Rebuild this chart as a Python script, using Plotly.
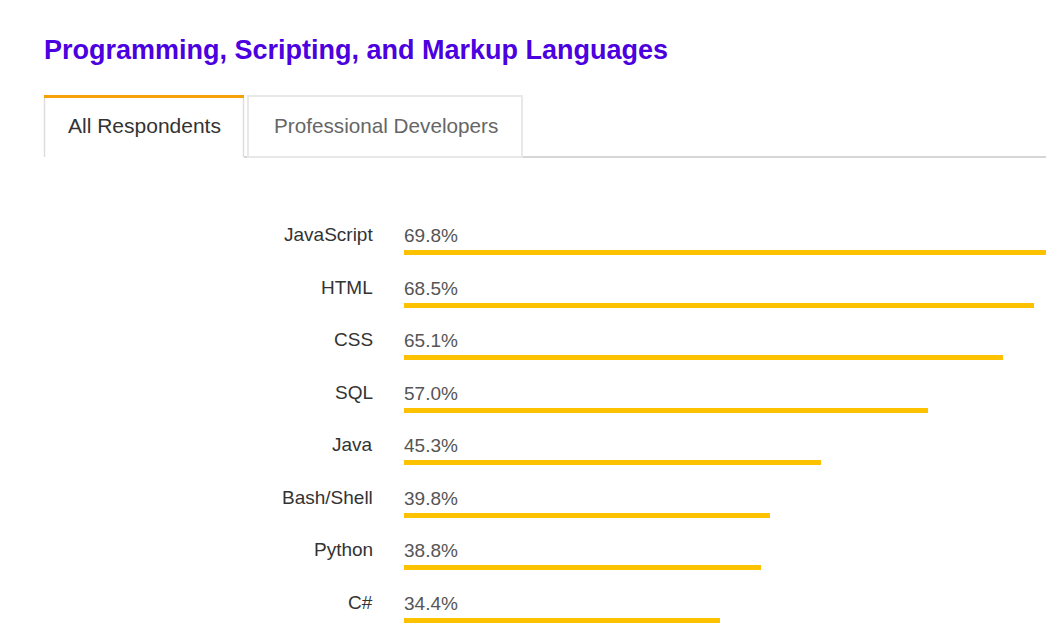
import plotly.graph_objects as go

languages = ["JavaScript", "HTML", "CSS", "SQL", "Java", "Bash/Shell", "Python", "C#"]
shares = [69.8, 68.5, 65.1, 57.0, 45.3, 39.8, 38.8, 34.4]
value_labels = [f"{v:.1f}%" for v in shares]
title_text = "Programming, Scripting, and Markup Languages"
tab_labels = ["All Respondents", "Professional Developers"]

FONT = "Arial"

W, H = 1058, 635
L, R, T, B = 404, 12, 200, 0
PW, PH = W - L - R, H - T - B
ROW = 52.57
FIRST = 252.5  # pixel centre of first bar

def px(x):
    return (x - L) / PW

def py(y):
    return (H - B - y) / PH

y_top = -(FIRST - T) / ROW
y_bot = y_top + PH / ROW
idx = list(range(len(languages)))

fig = go.Figure()
fig.add_trace(go.Bar(
    x=shares, y=idx, orientation="h",
    marker=dict(color="#fcc200", line=dict(width=0)),
    width=5 / ROW, hoverinfo="skip", showlegend=False,
))

annotations = []
for i, (lang, lab) in enumerate(zip(languages, value_labels)):
    annotations.append(dict(
        x=0, y=i, xref="x", yref="y", text=lang, showarrow=False,
        xanchor="right", yanchor="middle", xshift=-29, yshift=18,
        font=dict(family=FONT, size=19, color="#333333"),
    ))
    annotations.append(dict(
        x=0, y=i, xref="x", yref="y", text=lab, showarrow=False,
        xanchor="left", yanchor="middle", xshift=-2, yshift=17,
        font=dict(family=FONT, size=19, color="#555555"),
    ))

annotations.append(dict(
    x=px(144.5), y=py(125), xref="paper", yref="paper", text=tab_labels[0],
    showarrow=False, xanchor="center", yanchor="middle",
    font=dict(family=FONT, size=21, color="#333333"),
))
annotations.append(dict(
    x=px(385.5), y=py(125), xref="paper", yref="paper", text=tab_labels[1],
    showarrow=False, xanchor="center", yanchor="middle",
    font=dict(family=FONT, size=20.7, color="#666666"),
))

shapes = [
    dict(type="line", xref="paper", yref="paper", x0=px(244), x1=px(1046),
         y0=py(157), y1=py(157), line=dict(color="#d6d6d6", width=2)),
    dict(type="rect", xref="paper", yref="paper", x0=px(248), x1=px(522),
         y0=py(157), y1=py(96), line=dict(color="#e8e8e8", width=2),
         fillcolor="rgba(0,0,0,0)"),
    dict(type="line", xref="paper", yref="paper", x0=px(44.5), x1=px(44.5),
         y0=py(97), y1=py(157), line=dict(color="#dddddd", width=1.5)),
    dict(type="line", xref="paper", yref="paper", x0=px(243.5), x1=px(243.5),
         y0=py(97), y1=py(157), line=dict(color="#dddddd", width=1.5)),
    dict(type="rect", xref="paper", yref="paper", x0=px(44), x1=px(244),
         y0=py(98), y1=py(95), line=dict(width=0), fillcolor="#f6a00c"),
]

fig.update_layout(
    width=W, height=H,
    margin=dict(l=L, r=R, t=T, b=B),
    paper_bgcolor="white", plot_bgcolor="white",
    title=dict(text=f"<b>{title_text}</b>", xref="container", yref="container",
               x=44 / W, y=1 - 50 / H, xanchor="left", yanchor="middle",
               font=dict(family=FONT, size=27, color="#4b00e0")),
    xaxis=dict(range=[0, 69.8], visible=False, fixedrange=True),
    yaxis=dict(range=[y_bot, y_top], visible=False, fixedrange=True),
    bargap=0, annotations=annotations, shapes=shapes,
    hovermode=False,
)

fig.write_html("out.html", config={"displayModeBar": False})
